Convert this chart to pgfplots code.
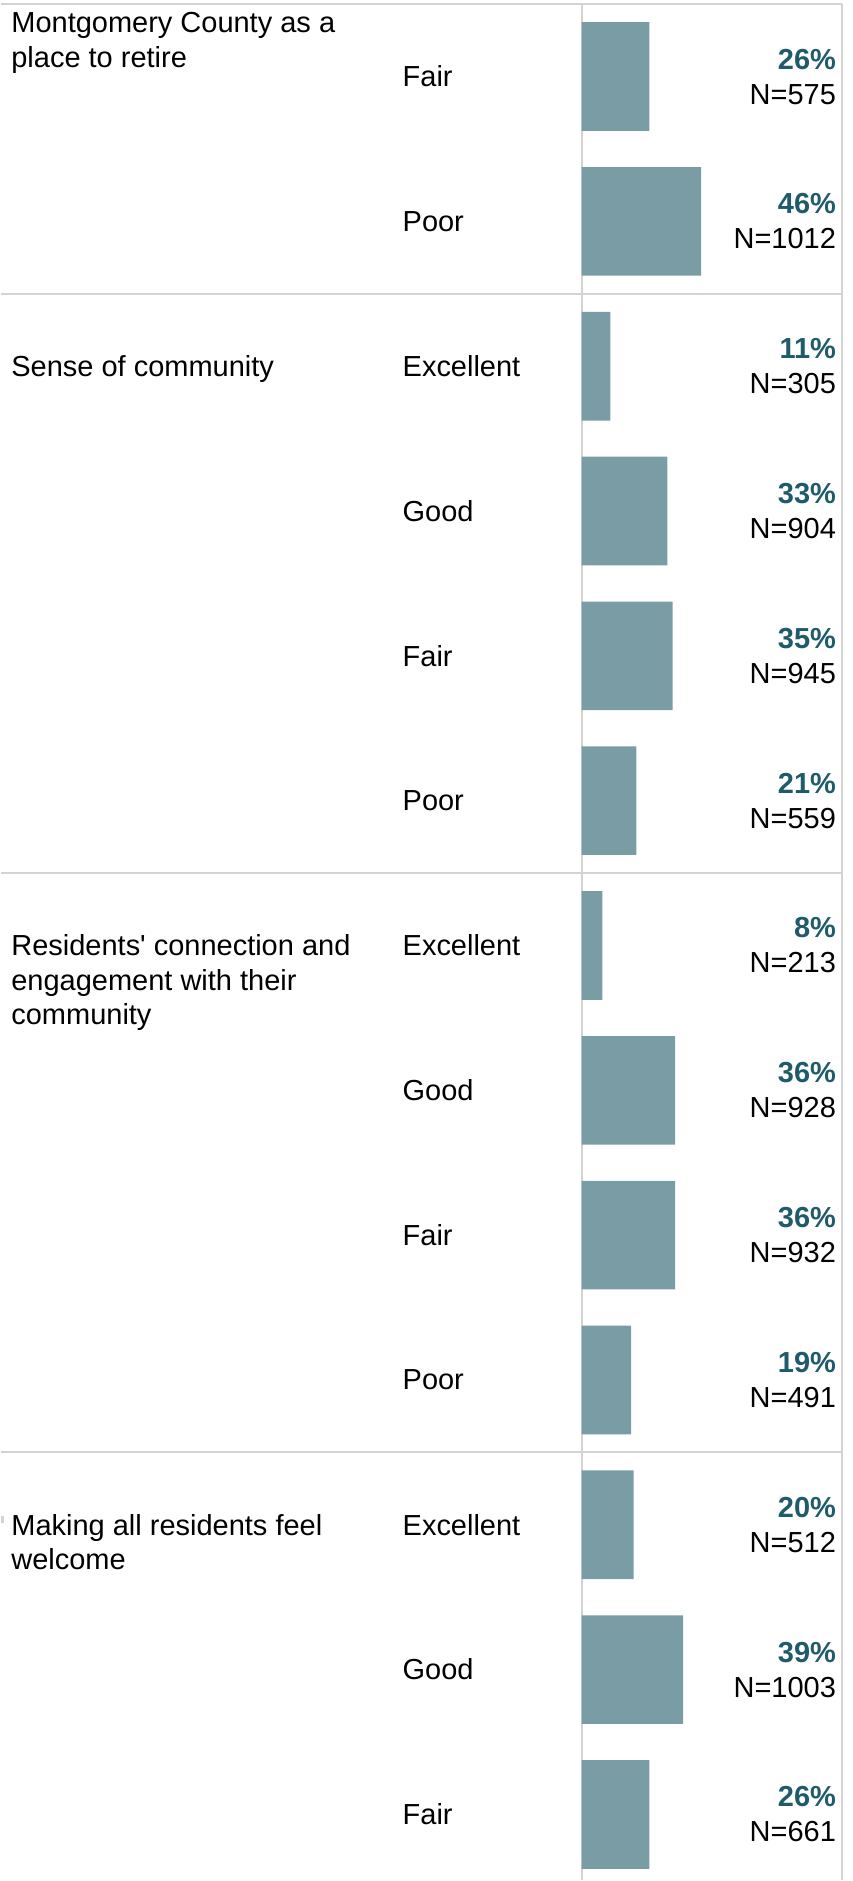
\documentclass[border=0pt]{standalone}
\usepackage{pgfplots}
\pgfplotsset{compat=1.18}
\usepackage{pgfplotstable}
\usepackage{fontspec}
\setmainfont{Liberation Sans}

\definecolor{barcol}{RGB}{122,156,164}
\definecolor{pctcol}{RGB}{31,91,106}
\definecolor{rulecol}{RGB}{211,211,211}

% one row per answer, top to bottom
\pgfplotstableread{
row cat       pct n
0   Fair      26  575
1   Poor      46  1012
2   Excellent 11  305
3   Good      33  904
4   Fair      35  945
5   Poor      21  559
6   Excellent 8   213
7   Good      36  928
8   Fair      36  932
9   Poor      19  491
10  Excellent 20  512
11  Good      39  1003
12  Fair      26  661
}\ratings

\begin{document}
\fontsize{14.5pt}{17.5pt}\selectfont
\begin{tikzpicture}
\begin{axis}[
  scale only axis, width=130pt, height=940.5pt,
  xmin=0, xmax=100, ymin=-0.5286, ymax=12.4527, y dir=reverse,
  axis line style={draw=none}, xtick=\empty,
  ytick={0,...,12}, yticklabels from table={\ratings}{cat},
  major tick length=0pt,
  yticklabel style={anchor=west, inner sep=0pt, xshift=-89.75pt},
  clip=false,
]
% frame and separators
\draw[rulecol, line width=1pt] (axis cs:0,-0.5) -- (axis cs:0,12.4527);
\draw[rulecol, line width=1pt] (axis cs:100,-0.5) -- (axis cs:100,12.4527);
\pgfplotsinvokeforeach{-0.5,1.5,5.5,9.5}{
  \draw[rulecol, line width=1pt] ([xshift=-290.5pt]axis cs:0,#1) -- (axis cs:100,#1);
}
\fill[rulecol] ([xshift=-290.5pt]axis cs:0,9.94) rectangle ([xshift=-289pt]axis cs:0,9.99);

\addplot[xbar, bar width=54.35pt, fill=barcol, draw=none] table[x=pct, y=row] {\ratings};

\addplot[only marks, mark=none, point meta=explicit symbolic,
  visualization depends on={\thisrow{n}\as\nval},
  nodes near coords={\textcolor{pctcol}{\bfseries\pgfplotspointmeta\%}\\N=\pgfmathprintnumber[fixed, precision=0, 1000 sep={}, assume math mode=true]{\nval}},
  nodes near coords style={anchor=east, align=right, inner sep=0pt}]
  table[x expr=98, y=row, meta=pct] {\ratings};

% group headers, one node per line
\tikzset{grp/.style={anchor=base west, inner sep=0pt}}
\node[grp] at ([xshift=-285.5pt, yshift=21.8pt]axis cs:0,0) {Montgomery County as a};
\node[grp] at ([xshift=-285.5pt, yshift=4.6pt]axis cs:0,0) {place to retire};
\node[grp] at ([xshift=-285.5pt, yshift=-5.2pt]axis cs:0,2) {Sense of community};
\node[grp] at ([xshift=-285.5pt, yshift=-5.2pt]axis cs:0,6) {Residents\textquotesingle{} connection and};
\node[grp] at ([xshift=-285.5pt, yshift=-22.4pt]axis cs:0,6) {engagement with their};
\node[grp] at ([xshift=-285.5pt, yshift=-39.6pt]axis cs:0,6) {community};
\node[grp] at ([xshift=-285.5pt, yshift=-5.2pt]axis cs:0,10) {Making all residents feel};
\node[grp] at ([xshift=-285.5pt, yshift=-22.4pt]axis cs:0,10) {welcome};

\path ([xshift=-290.5pt]axis cs:0,-0.5286) -- ([xshift=5.5pt]axis cs:100,12.4527);
\end{axis}
\end{tikzpicture}
\end{document}
